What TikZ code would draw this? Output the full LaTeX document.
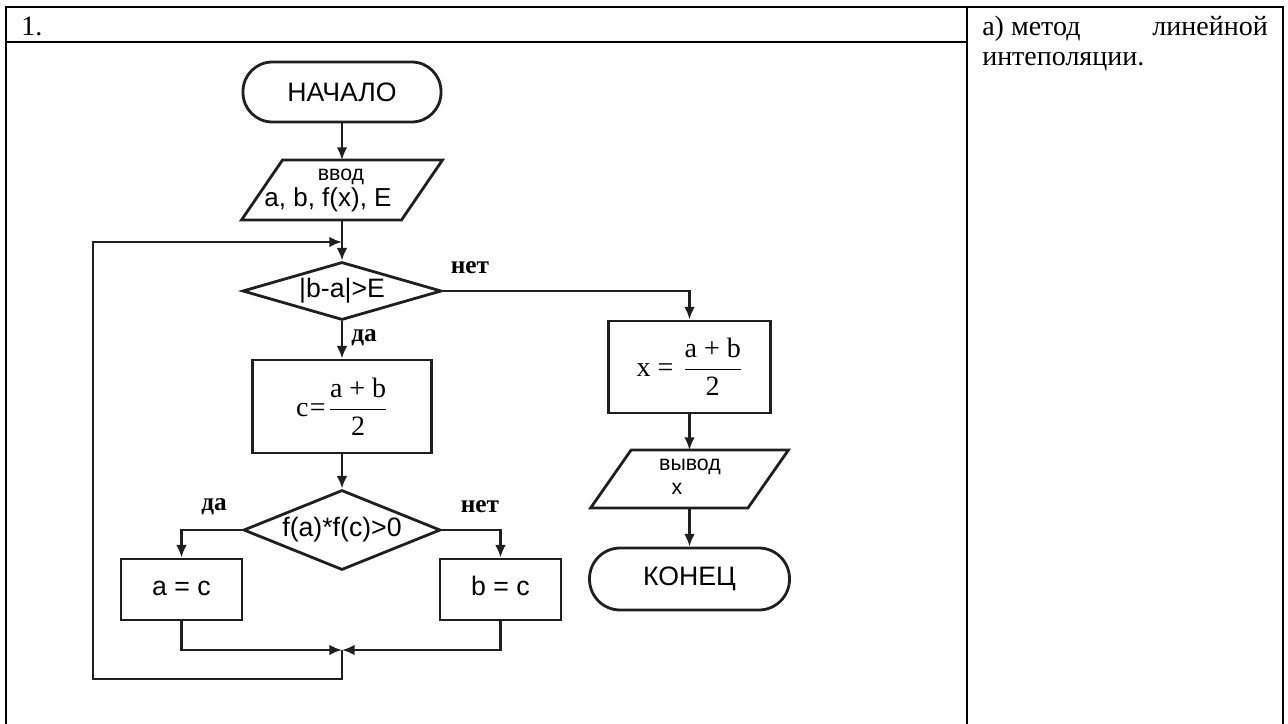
\documentclass[tikz,border=0pt]{standalone}
\usepackage{fontspec}
\setmainfont{Liberation Serif}
\newfontfamily\arialf{Liberation Sans}
\usetikzlibrary{shapes.geometric,arrows.meta,calc}
\begin{document}
\begin{tikzpicture}[x=0.75pt,y=-0.75pt,
  flow/.style={line width=2.1pt, draw=black!88},
  arr/.style={flow, -{Latex[length=9.5pt,width=8pt]}},
  term/.style={flow, rectangle, rounded corners=22pt, inner sep=0pt, font=\arialf\fontsize{20}{24}\selectfont},
  proc/.style={flow, rectangle, inner sep=0pt, font=\arialf\fontsize{20}{24}\selectfont},
  assign/.style={proc, text height=14.5pt, text depth=5pt},
  dec/.style={flow, diamond, inner sep=0pt, font=\arialf\fontsize{20}{24}\selectfont},
  ioshape/.style={rectangle, draw=none, inner sep=0pt, outer sep=0pt},
  iosmall/.style={inner sep=0pt, font=\arialf\fontsize{16}{18}\selectfont},
  iobig/.style={inner sep=0pt, font=\arialf\fontsize{19.5}{22}\selectfont},
  lbl/.style={inner sep=0pt, font=\bfseries\fontsize{19}{22}\selectfont},
  formula/.style={font=\fontsize{21}{25}\selectfont},
  tbl/.style={line width=0.9pt, draw=black},
  tbltext/.style={inner sep=0pt, font=\fontsize{21}{22}\selectfont},
]
\useasboundingbox (0,0) rectangle (1288,724);

% table
\draw[tbl] (6,724) -- (6,7) -- (1283,7) -- (1283,724);
\draw[tbl] (967,7) -- (967,724);
\draw[tbl] (6,42) -- (967,42);
\node[tbltext, anchor=base west] (num) at (21,36) {1.};
\node[tbltext, anchor=base west] (t1) at (982,36) {а) метод};
\node[tbltext, anchor=base east] (t2) at (1268,36) {линейной};
\node[tbltext, anchor=base west] (t3) at (982,66) {интеполяции.};

% flowchart nodes
\node[term, minimum width=148.5pt, minimum height=45pt] (start) at (342,92) {НАЧАЛО};
\node[ioshape, minimum width=120pt, minimum height=45pt] (in) at (342,190) {};
\draw[flow] ($(in.north west)+(20.5,0)$) -- ($(in.north east)+(20.5,0)$)
  -- ($(in.south east)+(-20.5,0)$) -- ($(in.south west)+(-20.5,0)$) -- cycle;
\node[iosmall] (inLbl) at (341,177) {ввод};
\node[iobig] (inTxt) at (328,200) {a, b, f(x), E};

\node[dec, minimum width=149.25pt, minimum height=43.5pt, shape aspect=3.4] (d1) at (342,291) {|b-a|>E};
\node[proc, minimum width=134.25pt, minimum height=69.75pt, formula] (cbox) at (342,406.5)
  {$\mbox{c\kern1pt=\kern2pt}\displaystyle\frac{\mbox{a + b}}{\mbox{2}}$};
\node[dec, minimum width=147.75pt, minimum height=60pt, shape aspect=2.46] (d2) at (342,530) {f(a)*f(c)>0};
\node[assign, minimum width=90.75pt, minimum height=45.75pt] (abox) at (181.5,589.5) {a = c};
\node[assign, minimum width=90.75pt, minimum height=45.75pt] (bbox) at (500.5,589.5) {b = c};

\node[proc, minimum width=121.5pt, minimum height=69pt, formula] (xbox) at (689.5,367)
  {$\mbox{x = \kern2pt}\displaystyle\frac{\mbox{a + b}}{\mbox{2}}$};
\node[ioshape, minimum width=118pt, minimum height=43.5pt] (out) at (689.5,479) {};
\draw[flow] ($(out.north west)+(20.25,0)$) -- ($(out.north east)+(20.25,0)$)
  -- ($(out.south east)+(-20.25,0)$) -- ($(out.south west)+(-20.25,0)$) -- cycle;
\node[iosmall] (outLbl) at (690,467) {вывод};
\node[iosmall] (outTxt) at (677,489) {x};
\node[term, minimum width=150pt, minimum height=46.5pt, rounded corners=23pt] (end) at (689.5,579) {КОНЕЦ};

% labels
\node[lbl] (l1) at (470,268) {нет};
\node[lbl] (l2) at (364,338) {да};
\node[lbl] (l3) at (214,507) {да};
\node[lbl] (l4) at (480,507) {нет};

% helper coordinates
\coordinate (merge) at (342,650);
\coordinate (join) at (342,242);
\coordinate (lb) at (93,679);

% connectors
\draw[arr] (start.south) -- (in.north);
\draw[arr] (in.south) -- (d1.north);
\draw[arr] (d1.east) -| (xbox.north);
\draw[arr] (d1.south) -- (cbox.north);
\draw[arr] (cbox.south) -- (d2.north);
\draw[arr] (d2.west) -| (abox.north);
\draw[arr] (d2.east) -| (bbox.north);
\draw[arr] (abox.south) |- (merge);
\draw[arr] (bbox.south) |- (merge);
\draw[arr] (merge) |- (lb) |- (join);
\draw[arr] (xbox.south) -- (out.north);
\draw[arr] (out.south) -- (end.north);
\end{tikzpicture}
\end{document}
